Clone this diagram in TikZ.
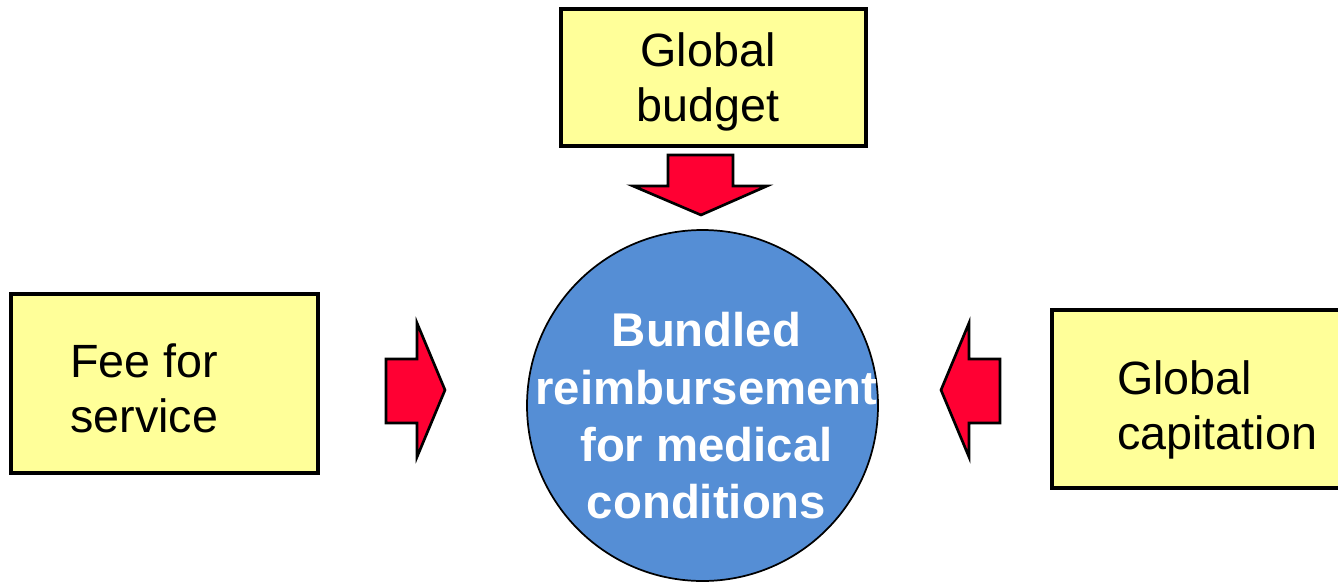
\documentclass[tikz,border=0pt]{standalone}
\usepackage{fontspec}
\setmainfont{Liberation Sans}
\definecolor{boxyellow}{HTML}{FFFF99}
\definecolor{circblue}{HTML}{558ED5}
\definecolor{arrred}{HTML}{FF0033}
\begin{document}
\begin{tikzpicture}[x=0.75pt,y=-0.75pt,
  ybox/.style={draw=black, line width=3pt, fill=boxyellow},
  blockarrow/.style={draw=black, line width=2pt, fill=arrred, line join=miter},
  boxtext/.style={font=\fontsize{35}{41}\selectfont, inner sep=0pt},
  circtext/.style={font=\fontsize{35.5}{43}\selectfont\bfseries, text=white, inner sep=0pt, align=center}]
\useasboundingbox (0,0) rectangle (1338,582);
\clip (0,0) rectangle (1338,582);
% boxes
\draw[ybox] (561,9) rectangle (866,146);
\draw[ybox] (11,294) rectangle (318,473);
\draw[ybox] (1052,310) rectangle (1360,488);
% circle
\node[circle, draw=black, line width=1.3pt, fill=circblue, minimum size=351*0.75pt, inner sep=0pt] (hub) at (702.5,405.5) {};
% texts
\node[boxtext, align=center] (gb) at (708,82) {Global\\budget};
\node[boxtext, align=left, anchor=west] (ffs) at (70,388.5) {Fee for\\service};
\node[boxtext, align=left, anchor=west] (gc) at (1117,410) {Global\\capitation};
\node[circtext] (bund) at (706.5,416) {Bundled\\reimbursement\\for medical\\conditions};
% block arrows
\draw[blockarrow] (668,155) -- (733,155) -- (733,186) -- (767,186) -- (701,215) -- (633,186) -- (668,186) -- cycle;
\draw[blockarrow] (386,359) -- (417,359) -- (417,323) -- (445,390) -- (417,457) -- (417,423) -- (386,423) -- cycle;
\draw[blockarrow] (1000,359) -- (969,359) -- (969,323) -- (941,390) -- (969,457) -- (969,423) -- (1000,423) -- cycle;
\end{tikzpicture}
\end{document}
